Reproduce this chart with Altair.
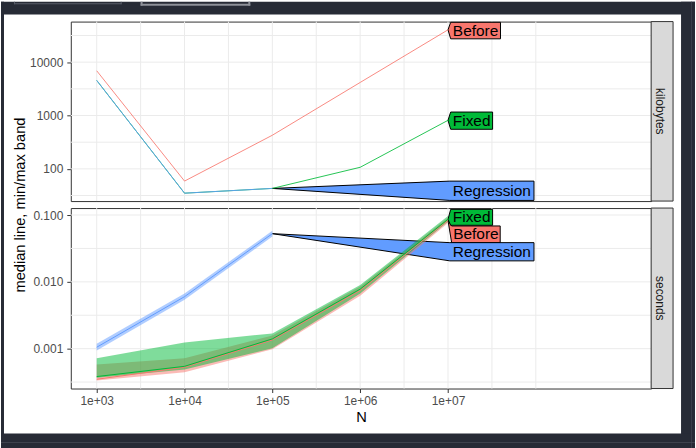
import math
import altair as alt
import pandas as pd

# ---------------- data ----------------
N = [1e3, 1e4, 1e5, 1e6, 1e7]
SERIES = ["Before", "Fixed", "Regression"]
COLORS = ["#F8766D", "#00BA38", "#619CFF"]
STRIPS = ["kilobytes", "seconds"]
Y_TITLE = "median line, min/max band"
X_TITLE = "N"

# kilobytes (median; min/max identical)
kb_before = [6900, 59, 427, 4170, 40400]
kb_fixed = [4550, 35, 43, 107, 813]
kb_regression = [4550, 35, 43]

# seconds: median, min, max
s_before_med = [0.000348, 0.000526, 0.00135, 0.0074, 0.083]
s_before_min = [0.000333, 0.000443, 0.00098, 0.0062, 0.076]
s_before_max = [0.000577, 0.000716, 0.00158, 0.0085, 0.091]
s_fixed_med = [0.000382, 0.000544, 0.00140, 0.00778, 0.0863]
s_fixed_min = [0.000366, 0.000486, 0.00101, 0.00668, 0.080]
s_fixed_max = [0.00072, 0.00124, 0.00169, 0.00893, 0.0966]
s_reg_med = [0.00105, 0.0060, 0.0526]
s_reg_min = [0.00094, 0.0054, 0.0478]
s_reg_max = [0.00118, 0.0067, 0.0580]

# direct label boxes (data units): left, right, top, bottom
kb_lab_left = [1.073e7, 1.073e7, 1.05e7]
kb_lab_right = [3.96e7, 3.22e7, 9.53e7]
kb_lab_top = [55900, 1161, 58.9]
kb_lab_bottom = [27400, 552, 25.6]
s_lab_left = [1.10e7, 1.073e7, 1.05e7]
s_lab_right = [3.93e7, 3.22e7, 9.53e7]
s_lab_top = [0.0686, 0.1216, 0.0386]
s_lab_bottom = [0.0386, 0.0702, 0.0206]

# tick / grid values
x_major = [1e3, 1e4, 1e5, 1e6, 1e7]
x_minor = [10 ** 3.5, 10 ** 4.5, 10 ** 5.5, 10 ** 6.5, 10 ** 7.5, 10 ** 8]
kb_major = [100, 1000, 10000]
kb_minor = [10 ** 1.5, 10 ** 2.5, 10 ** 3.5, 10 ** 4.5]
s_major = [0.001, 0.01, 0.1]
s_minor = [10 ** -3.5, 10 ** -2.5, 10 ** -1.5]

# ---------------- layout ----------------
W = 582
H1 = 180
H2 = 181
GAP = 7
FONT = "Liberation Sans"
DARK = "#272B36"
GRID = "#EBEBEB"

xs = alt.Scale(type="log", domain=[506.8, 2.056e9], nice=False)
ys_kb = alt.Scale(type="log", domain=[24.9, 57680], nice=False)
ys_s = alt.Scale(type="log", domain=[0.000253, 0.1272], nice=False)

common_axis = dict(grid=False, domain=False, tickSize=4, tickColor="#333333", tickWidth=1,
                   labelColor="#4D4D4D", labelFontSize=12, labelFont=FONT,
                   labelFlush=False, labelOverlap=False)

x_axis_bottom = alt.Axis(values=x_major, format=".0e",
                         labelExpr="replace(datum.label, '+', '+0')",
                         labelPadding=3, title=X_TITLE, titleFont=FONT,
                         titleFontSize=14.7, titleColor="black",
                         titleFontWeight="normal", titlePadding=3, **common_axis)
y_axis_kb = alt.Axis(values=kb_major, format="d", labelPadding=4, title=None, **common_axis)
y_axis_s = alt.Axis(values=s_major, format=".3f", labelPadding=4, title=None, **common_axis)

one = pd.DataFrame({"k": [0]})
color_scale = alt.Scale(domain=SERIES, range=COLORS)


def px_rect(x, x2, y, y2, fill):
    return alt.Chart(one).mark_rect(fill=fill).encode(
        x=alt.value(x), x2=alt.value(x2), y=alt.value(y), y2=alt.value(y2))


def grid_layers(ys, xaxis, yaxis, ymajor, yminor):
    v = alt.Chart(pd.DataFrame({"N": x_minor + x_major})).mark_rule(
        color=GRID, strokeWidth=1).encode(x=alt.X("N:Q", scale=xs, axis=xaxis))
    h = alt.Chart(pd.DataFrame({"v": yminor + ymajor})).mark_rule(
        color=GRID, strokeWidth=1).encode(y=alt.Y("v:Q", scale=ys, axis=yaxis))
    return [v, h]


def label_layers(ys, xaxis, yaxis, tips, left, right, top, bottom):
    rows = []
    txt = []
    for i, s in enumerate(SERIES):
        tn, tv = tips[i]
        rows.append({"id": i, "series": s, "N": tn, "v": tv, "v2": tv})
        rows.append({"id": i, "series": s, "N": left[i], "v": top[i], "v2": bottom[i]})
        rows.append({"id": i, "series": s, "N": right[i], "v": top[i], "v2": bottom[i]})
        txt.append({"series": s, "N": math.sqrt(left[i] * right[i]),
                    "v": math.sqrt(top[i] * bottom[i])})
    poly = alt.Chart(pd.DataFrame(rows)).mark_area(
        stroke="black", strokeWidth=1, opacity=1, interpolate="linear").encode(
        x=alt.X("N:Q", scale=xs, axis=xaxis),
        y=alt.Y("v:Q", scale=ys, axis=yaxis, stack=None),
        y2="v2:Q",
        fill=alt.Fill("series:N", scale=color_scale, legend=None),
        detail="id:N")
    text = alt.Chart(pd.DataFrame(txt)).mark_text(
        font=FONT, fontSize=15.5, color="black", align="center", baseline="middle").encode(
        x=alt.X("N:Q", scale=xs, axis=xaxis),
        y=alt.Y("v:Q", scale=ys, axis=yaxis),
        text="series:N")
    return poly, text


def line_layer(values, color, ys, xaxis, yaxis, opacity=1.0):
    df = pd.DataFrame({"N": N[:len(values)], "v": values})
    return alt.Chart(df).mark_line(color=color, strokeWidth=1, opacity=opacity).encode(
        x=alt.X("N:Q", scale=xs, axis=xaxis),
        y=alt.Y("v:Q", scale=ys, axis=yaxis))


def band_layer(lo, hi, color, ys, xaxis, yaxis):
    df = pd.DataFrame({"N": N[:len(lo)], "v": lo, "v2": hi})
    return alt.Chart(df).mark_area(color=color, opacity=0.5).encode(
        x=alt.X("N:Q", scale=xs, axis=xaxis),
        y=alt.Y("v:Q", scale=ys, axis=yaxis, stack=None),
        y2="v2:Q")


def strip_layers(label, H):
    rect = alt.Chart(one).mark_rect(fill="#D9D9D9", stroke="#333333", strokeWidth=1).encode(
        x=alt.value(W), x2=alt.value(W + 22), y=alt.value(0), y2=alt.value(H))
    text = alt.Chart(pd.DataFrame({"t": [label]})).mark_text(
        font=FONT, fontSize=12, color="#1A1A1A", angle=90,
        align="center", baseline="middle").encode(
        text="t:N", x=alt.value(W + 9), y=alt.value(H / 2))
    return [rect, text]


# ---------------- top panel (kilobytes) ----------------
frame = [
    px_rect(-70, 626, -20, -7, DARK),
    px_rect(-70, -67, -20, 428, DARK),
    px_rect(612, 626, -20, 428, DARK),
    px_rect(-70, 626, 413, 428, DARK),
    # screenshot UI: two button outlines in the top bar
    px_rect(-57, 51, -18.5, -17.5, "#5A5E6A"),
    px_rect(-57, -56, -20, -17.5, "#5A5E6A"),
    px_rect(50, 51, -20, -17.5, "#5A5E6A"),
    px_rect(70, 180, -18, -16, "#8E9199"),
    px_rect(70, 72, -20, -16, "#8E9199"),
    px_rect(178, 180, -20, -16, "#8E9199"),
    # right and bottom separator lines
    px_rect(622, 623, -20, 428, "#3A3E4A"),
    px_rect(-70, 626, 421.5, 422.5, "#474B56"),
]

kb_tips = [(N[4], kb_before[-1]), (N[4], kb_fixed[-1]), (N[2], kb_regression[-1])]
kb_poly, kb_text = label_layers(ys_kb, None, y_axis_kb, kb_tips,
                                kb_lab_left, kb_lab_right, kb_lab_top, kb_lab_bottom)

ytitle = alt.Chart(pd.DataFrame({"t": [Y_TITLE]})).mark_text(
    font=FONT, fontSize=14.7, color="black", angle=270,
    align="center", baseline="middle").encode(
    text="t:N", x=alt.value(-50), y=alt.value(184))

top = alt.layer(
    *frame,
    *grid_layers(ys_kb, None, y_axis_kb, kb_major, kb_minor),
    kb_poly,
    line_layer(kb_before, COLORS[0], ys_kb, None, y_axis_kb, 0.85),
    line_layer(kb_fixed, COLORS[1], ys_kb, None, y_axis_kb, 0.85),
    line_layer(kb_regression, COLORS[2], ys_kb, None, y_axis_kb, 0.85),
    kb_text,
    *strip_layers(STRIPS[0], H1),
    ytitle,
).properties(width=W, height=H1)

# ---------------- bottom panel (seconds) ----------------
s_tips = [(N[4], s_before_med[-1]), (N[4], s_fixed_med[-1]), (N[2], s_reg_med[-1])]
s_poly, s_text = label_layers(ys_s, x_axis_bottom, y_axis_s, s_tips,
                              s_lab_left, s_lab_right, s_lab_top, s_lab_bottom)

bottom = alt.layer(
    *grid_layers(ys_s, x_axis_bottom, y_axis_s, s_major, s_minor),
    s_poly,
    band_layer(s_before_min, s_before_max, COLORS[0], ys_s, x_axis_bottom, y_axis_s),
    band_layer(s_fixed_min, s_fixed_max, COLORS[1], ys_s, x_axis_bottom, y_axis_s),
    band_layer(s_reg_min, s_reg_max, COLORS[2], ys_s, x_axis_bottom, y_axis_s),
    line_layer(s_before_med, COLORS[0], ys_s, x_axis_bottom, y_axis_s),
    line_layer(s_fixed_med, COLORS[1], ys_s, x_axis_bottom, y_axis_s),
    line_layer(s_reg_med, COLORS[2], ys_s, x_axis_bottom, y_axis_s),
    s_text,
    *strip_layers(STRIPS[1], H2),
).properties(width=W, height=H2)

chart = alt.vconcat(top, bottom, spacing=GAP, bounds="flush").resolve_scale(
    x="independent", y="independent"
).properties(padding=0, background="white").configure_view(
    stroke="#333333", strokeWidth=1
).configure_text(font=FONT)

chart.save("out.html", embed_options={"renderer": "svg", "actions": False})
